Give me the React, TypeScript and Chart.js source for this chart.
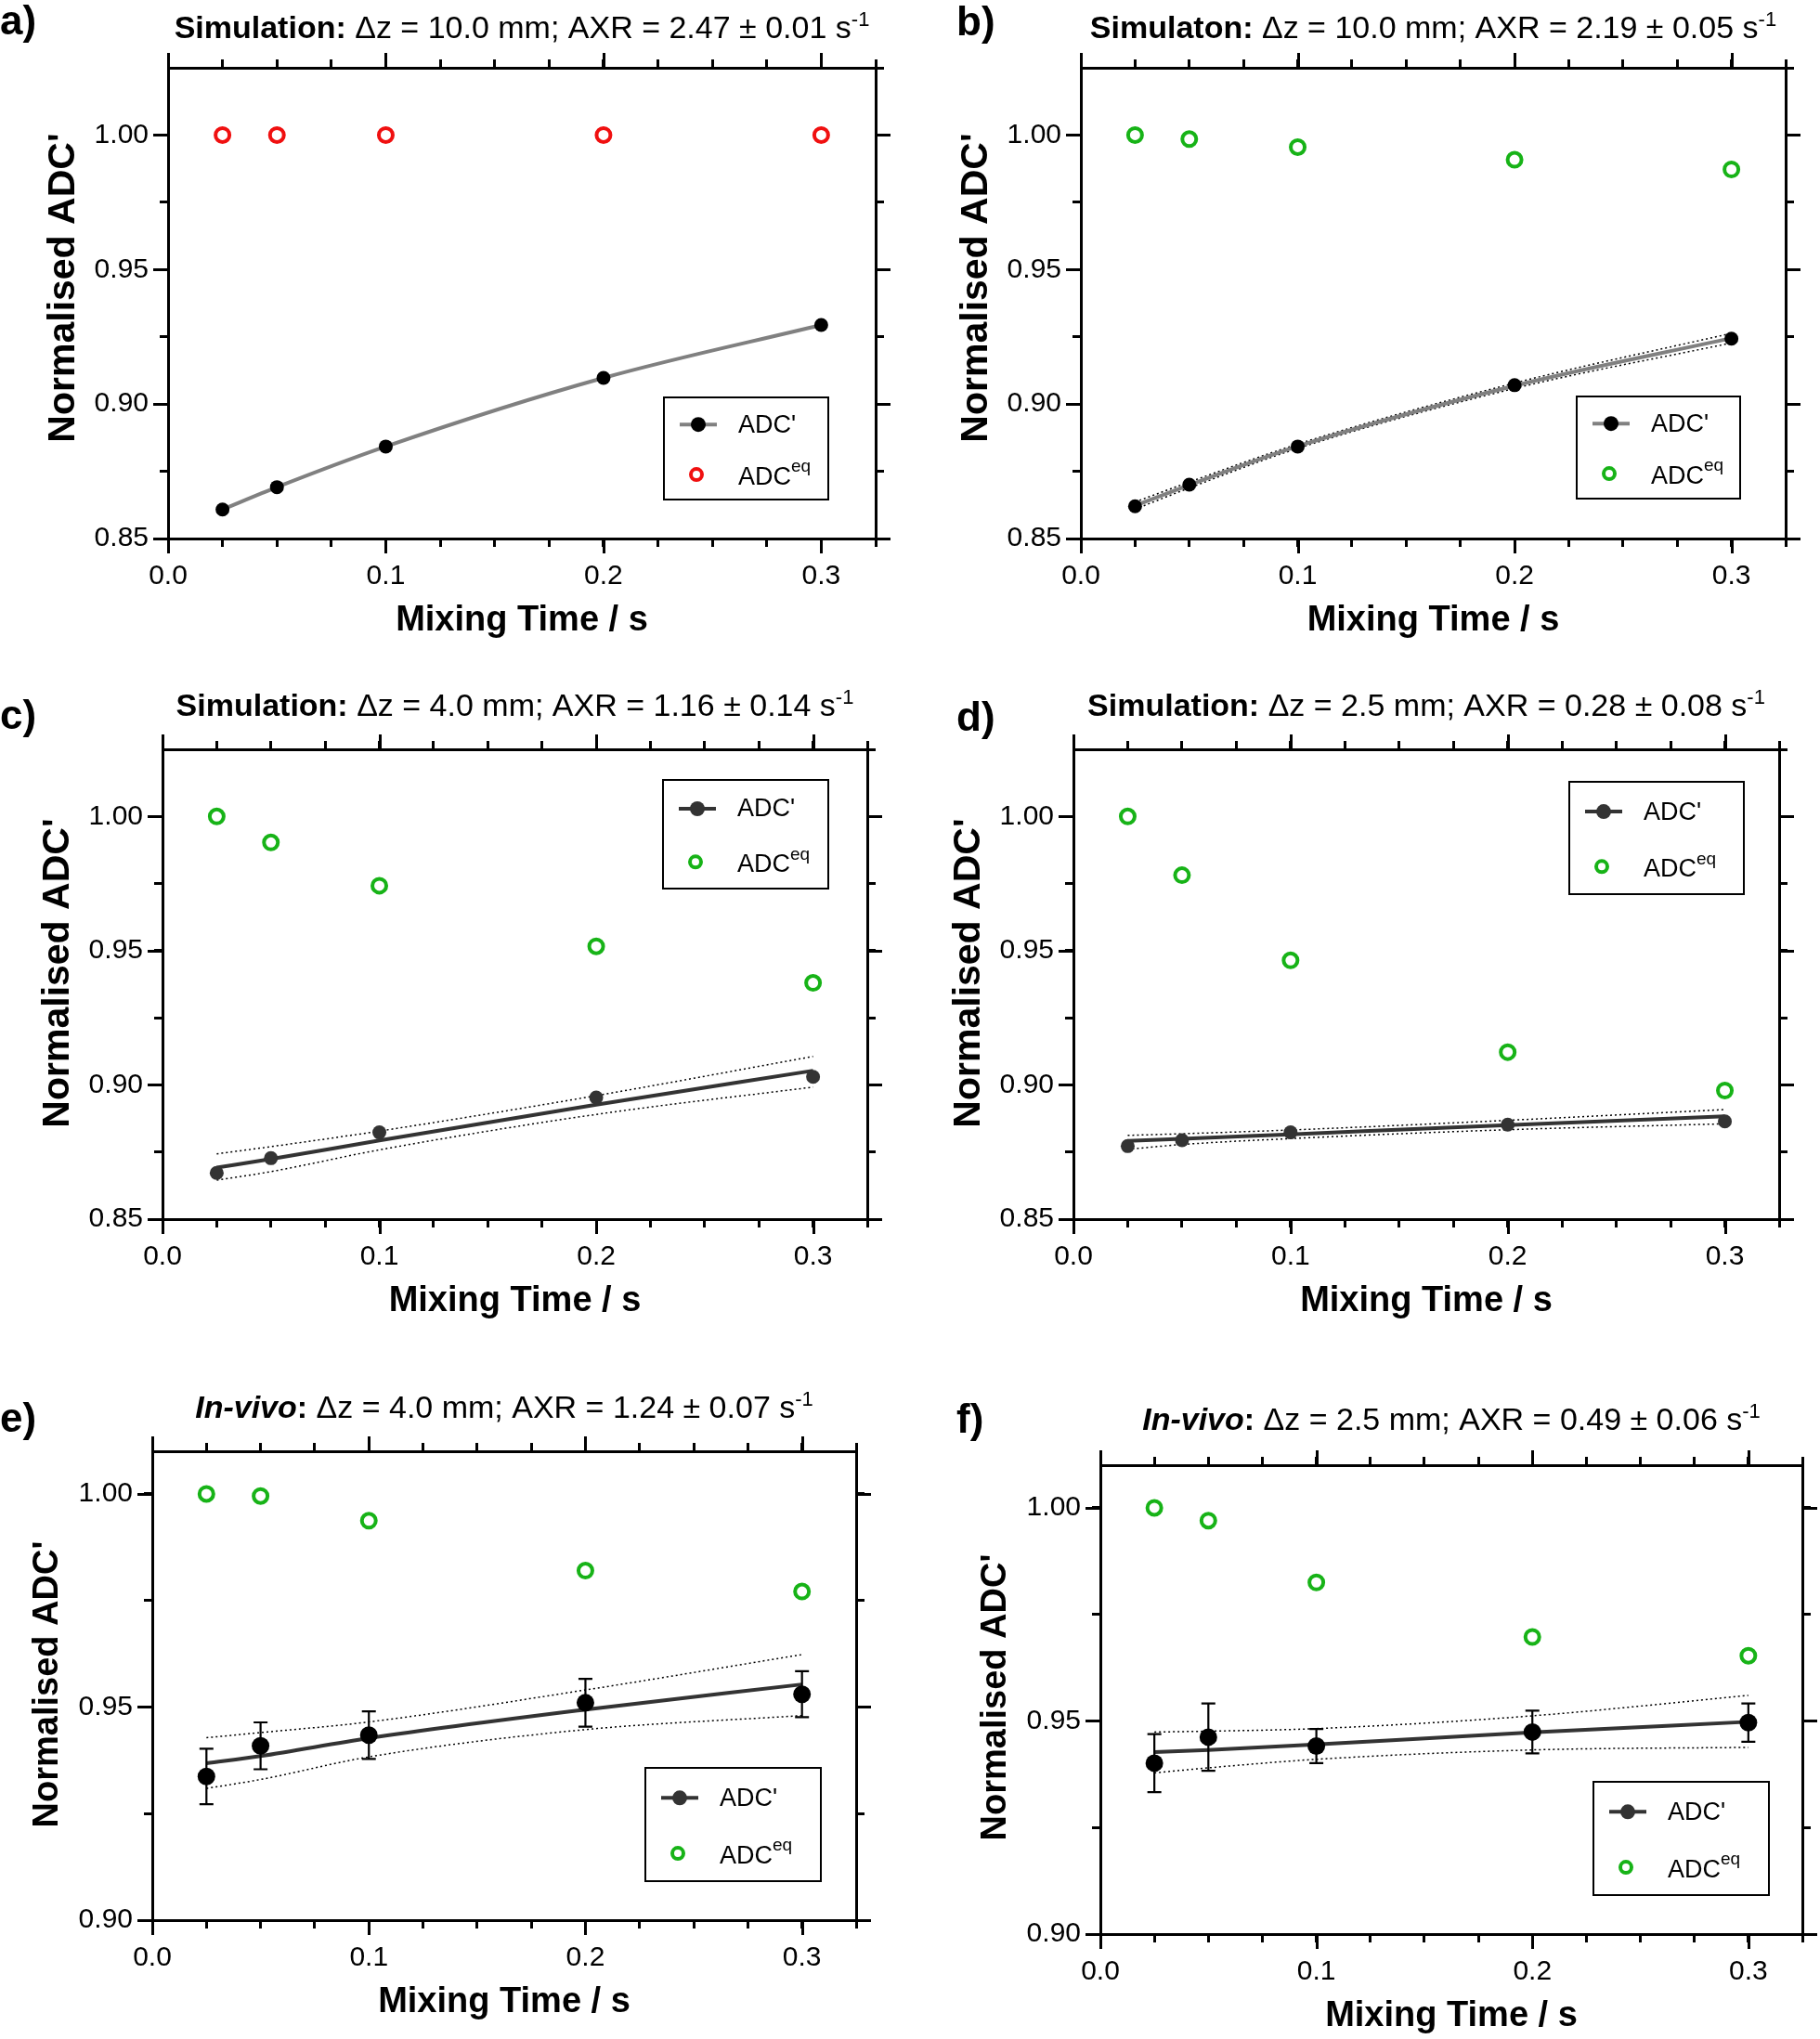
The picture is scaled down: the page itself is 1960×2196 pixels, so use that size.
import React, { useEffect, useRef } from 'react';
import { Chart, registerables } from 'chart.js';

Chart.register(...registerables);

const FONT = '"Liberation Sans", Arial, Helvetica, sans-serif';
Chart.defaults.font.family = FONT;

// ---------------- data ----------------
const mixingTime = [0.025, 0.05, 0.1, 0.2, 0.3];

const xMinorTicks = [0, 0.025, 0.05, 0.075, 0.1, 0.125, 0.15, 0.175, 0.2, 0.225, 0.25, 0.275, 0.3, 0.325];
const xMajorTicks = [0, 0.1, 0.2, 0.3];
const xTickLabels = ['0.0', '0.1', '0.2', '0.3'];

const yMajorSim = [0.85, 0.9, 0.95, 1.0];
const yLabelsSim = ['0.85', '0.90', '0.95', '1.00'];
const yMinorSim = [0.85, 0.875, 0.9, 0.925, 0.95, 0.975, 1.0, 1.025];
const yMajorVivo = [0.9, 0.95, 1.0];
const yLabelsVivo = ['0.90', '0.95', '1.00'];
const yMinorVivo = [0.9, 0.925, 0.95, 0.975, 1.0];

const adcA = [0.8608, 0.8691, 0.8842, 0.9097, 0.9294];
const adcEqA = [1.0, 1.0, 1.0, 1.0, 1.0];

const adcB = [0.862, 0.87, 0.8842, 0.907, 0.9243];
const adcEqB = [1.0, 0.9985, 0.9955, 0.9908, 0.9872];
const fitB = [0.8622, 0.8699, 0.8843, 0.9068, 0.9245];
const upperB = [0.8636, 0.871, 0.8851, 0.9078, 0.9263];
const lowerB = [0.8609, 0.8688, 0.8835, 0.9058, 0.9227];

const adcC = [0.8672, 0.8727, 0.8823, 0.8953, 0.903];
const adcEqC = [1.0, 0.9903, 0.9742, 0.9516, 0.938];
const fitC = [0.8692, 0.8724, 0.8793, 0.8926, 0.9053];
const upperC = [0.8743, 0.877, 0.8828, 0.896, 0.9106];
const lowerC = [0.8645, 0.8677, 0.8758, 0.889, 0.8992];

const adcD = [0.8772, 0.8794, 0.8823, 0.8852, 0.8864];
const adcEqD = [1.0, 0.9781, 0.9464, 0.9122, 0.8979];
const fitD = [0.8791, 0.8799, 0.8816, 0.885, 0.8883];
const upperD = [0.8812, 0.8818, 0.8832, 0.8868, 0.8908];
const lowerD = [0.876, 0.8778, 0.88, 0.8833, 0.8855];

const adcE = [0.9337, 0.9409, 0.9434, 0.951, 0.953];
const errE = [0.0065, 0.0055, 0.0056, 0.0056, 0.0054];
const adcEqE = [1.0, 0.9995, 0.9937, 0.982, 0.9771];
const fitE = [0.9368, 0.9385, 0.9427, 0.9494, 0.9553];
const upperE = [0.9428, 0.944, 0.9465, 0.954, 0.9623];
const lowerE = [0.9309, 0.933, 0.9383, 0.9447, 0.948];

const adcF = [0.9401, 0.9462, 0.9441, 0.9474, 0.9496];
const errF = [0.0068, 0.0079, 0.004, 0.005, 0.0045];
const adcEqF = [1.0, 0.997, 0.9825, 0.9697, 0.9653];
const fitF = [0.9427, 0.9432, 0.9445, 0.9473, 0.9498];
const upperF = [0.9474, 0.9476, 0.9482, 0.9512, 0.956];
const lowerF = [0.9378, 0.939, 0.941, 0.9432, 0.9438];

// ---------------- panel specs (layout / style) ----------------
type Seg = { t: string; style: 'b' | 'r' | 'bi' | 'sup' };
type Box = { l: number; t: number; r: number; b: number };
type Panel = {
  key: string;
  letter: string;
  letterPos: { x: number; y: number };
  title: Seg[];
  titleY: number;
  yTitleY: number;
  yTitleSize: number;
  canvas: { x: number; y: number; w: number; h: number };
  plot: Box;
  yMin: number;
  yMax: number;
  vivo: boolean;
  adc: number[];
  adcEq: number[];
  fit: number[];
  upper?: number[];
  lower?: number[];
  err?: number[];
  eqColor: string;
  fitColor: string;
  dotColor: string;
  legendDot: string;
  dotR: number;
  legend: Box;
};

const RED = '#f01010';
const GREEN = '#17b317';

const panels: Panel[] = [
  {
    key: 'a', letter: 'a)', letterPos: { x: 0, y: 37 },
    title: [{ t: 'Simulation:', style: 'b' }, { t: ' \u0394z = 10.0 mm; AXR = 2.47 \u00b1 0.01 s', style: 'r' }, { t: '-1', style: 'sup' }],
    titleY: 29, yTitleY: 310, yTitleSize: 41,
    canvas: { x: 0, y: 0, w: 980, h: 720 }, plot: { l: 181, t: 73, r: 943, b: 580 },
    yMin: 0.85, yMax: 1.025, vivo: false,
    adc: adcA, adcEq: adcEqA, fit: adcA,
    eqColor: RED, fitColor: '#808080', dotColor: '#000', legendDot: '#000', dotR: 7.5,
    legend: { l: 715, t: 428, r: 892, b: 538 },
  },
  {
    key: 'b', letter: 'b)', letterPos: { x: 1030, y: 38 },
    title: [{ t: 'Simulaton:', style: 'b' }, { t: ' \u0394z = 10.0 mm; AXR = 2.19 \u00b1 0.05 s', style: 'r' }, { t: '-1', style: 'sup' }],
    titleY: 29, yTitleY: 310, yTitleSize: 41,
    canvas: { x: 980, y: 0, w: 980, h: 720 }, plot: { l: 1164, t: 73, r: 1923, b: 580 },
    yMin: 0.85, yMax: 1.025, vivo: false,
    adc: adcB, adcEq: adcEqB, fit: fitB, upper: upperB, lower: lowerB,
    eqColor: GREEN, fitColor: '#808080', dotColor: '#000', legendDot: '#000', dotR: 7.5,
    legend: { l: 1698, t: 427, r: 1874, b: 537 },
  },
  {
    key: 'c', letter: 'c)', letterPos: { x: 0, y: 785 },
    title: [{ t: 'Simulation:', style: 'b' }, { t: ' \u0394z = 4.0 mm; AXR = 1.16 \u00b1 0.14 s', style: 'r' }, { t: '-1', style: 'sup' }],
    titleY: 759, yTitleY: 1048, yTitleSize: 41,
    canvas: { x: 0, y: 720, w: 980, h: 740 }, plot: { l: 175, t: 807, r: 934, b: 1313 },
    yMin: 0.85, yMax: 1.025, vivo: false,
    adc: adcC, adcEq: adcEqC, fit: fitC, upper: upperC, lower: lowerC,
    eqColor: GREEN, fitColor: '#333333', dotColor: '#333333', legendDot: '#333333', dotR: 7.5,
    legend: { l: 714, t: 840, r: 892, b: 957 },
  },
  {
    key: 'd', letter: 'd)', letterPos: { x: 1030, y: 787 },
    title: [{ t: 'Simulation:', style: 'b' }, { t: ' \u0394z = 2.5 mm; AXR = 0.28 \u00b1 0.08 s', style: 'r' }, { t: '-1', style: 'sup' }],
    titleY: 759, yTitleY: 1048, yTitleSize: 41,
    canvas: { x: 980, y: 720, w: 980, h: 740 }, plot: { l: 1156, t: 807, r: 1916, b: 1313 },
    yMin: 0.85, yMax: 1.025, vivo: false,
    adc: adcD, adcEq: adcEqD, fit: fitD, upper: upperD, lower: lowerD,
    eqColor: GREEN, fitColor: '#333333', dotColor: '#333333', legendDot: '#333333', dotR: 7.5,
    legend: { l: 1690, t: 842, r: 1878, b: 963 },
  },
  {
    key: 'e', letter: 'e)', letterPos: { x: 0, y: 1542 },
    title: [{ t: 'In-vivo', style: 'bi' }, { t: ':', style: 'b' }, { t: ' \u0394z = 4.0 mm; AXR = 1.24 \u00b1 0.07 s', style: 'r' }, { t: '-1', style: 'sup' }],
    titleY: 1515, yTitleY: 1814, yTitleSize: 38,
    canvas: { x: 0, y: 1460, w: 980, h: 736 }, plot: { l: 164, t: 1563, r: 922, b: 2068 },
    yMin: 0.9, yMax: 1.01, vivo: true,
    adc: adcE, adcEq: adcEqE, fit: fitE, upper: upperE, lower: lowerE, err: errE,
    eqColor: GREEN, fitColor: '#333333', dotColor: '#000', legendDot: '#333333', dotR: 9.5,
    legend: { l: 695, t: 1904, r: 884, b: 2026 },
  },
  {
    key: 'f', letter: 'f)', letterPos: { x: 1030, y: 1543 },
    title: [{ t: 'In-vivo', style: 'bi' }, { t: ':', style: 'b' }, { t: ' \u0394z = 2.5 mm; AXR = 0.49 \u00b1 0.06 s', style: 'r' }, { t: '-1', style: 'sup' }],
    titleY: 1528, yTitleY: 1828, yTitleSize: 38,
    canvas: { x: 980, y: 1460, w: 980, h: 736 }, plot: { l: 1185, t: 1578, r: 1941, b: 2083 },
    yMin: 0.9, yMax: 1.01, vivo: true,
    adc: adcF, adcEq: adcEqF, fit: fitF, upper: upperF, lower: lowerF, err: errF,
    eqColor: GREEN, fitColor: '#333333', dotColor: '#000', legendDot: '#333333', dotR: 9.5,
    legend: { l: 1716, t: 1919, r: 1905, b: 2041 },
  },
];

const TITLE_SIZE = 34;
const SUP_SIZE = 22;
const TICK_SIZE = 30;
const AXIS_TITLE_SIZE = 38;
const LEGEND_SIZE = 27;
const MINOR_LEN = 9;
const MAJOR_LEN = 16;
const X2H = 18;
const Y2W = 18;

const pts = (ys: number[]) => mixingTime.map((x, i) => ({ x, y: ys[i] }));
const near = (arr: number[], v: number) => arr.findIndex((m) => Math.abs(m - v) < 1e-9);

function segFont(style: Seg['style']) {
  if (style === 'b') return `bold ${TITLE_SIZE}px ${FONT}`;
  if (style === 'bi') return `italic bold ${TITLE_SIZE}px ${FONT}`;
  if (style === 'sup') return `${SUP_SIZE}px ${FONT}`;
  return `${TITLE_SIZE}px ${FONT}`;
}

function makeExtras(p: Panel) {
  const ox = p.canvas.x;
  const oy = p.canvas.y;
  const yMajor = p.vivo ? yMajorVivo : yMajorSim;
  return {
    id: 'extras',
    afterDatasetsDraw(chart: any) {
      if (!p.err) return;
      const ctx = chart.ctx;
      const xs = chart.scales.x;
      const ys = chart.scales.y;
      ctx.save();
      ctx.strokeStyle = '#000';
      ctx.lineWidth = 2.2;
      p.err.forEach((e, i) => {
        const px = xs.getPixelForValue(mixingTime[i]);
        const top = ys.getPixelForValue(p.adc[i] + e);
        const bot = ys.getPixelForValue(p.adc[i] - e);
        ctx.beginPath();
        ctx.moveTo(px, top);
        ctx.lineTo(px, bot);
        ctx.moveTo(px - 7.5, top);
        ctx.lineTo(px + 7.5, top);
        ctx.moveTo(px - 7.5, bot);
        ctx.lineTo(px + 7.5, bot);
        ctx.stroke();
      });
      ctx.restore();
    },
    afterDraw(chart: any) {
      const ctx = chart.ctx;
      const ca = chart.chartArea;
      const xs = chart.scales.x;
      const ys = chart.scales.y;
      ctx.save();
      // longer major tick marks on all four sides
      ctx.strokeStyle = '#000';
      ctx.lineWidth = 3;
      ctx.lineCap = 'butt';
      ctx.beginPath();
      xMajorTicks.forEach((v) => {
        const px = Math.round(xs.getPixelForValue(v)) + 0.5;
        ctx.moveTo(px, ca.bottom);
        ctx.lineTo(px, ca.bottom + MAJOR_LEN);
        ctx.moveTo(px, ca.top);
        ctx.lineTo(px, ca.top - MAJOR_LEN);
      });
      yMajor.forEach((v) => {
        const py = Math.round(ys.getPixelForValue(v)) + 0.5;
        ctx.moveTo(ca.left, py);
        ctx.lineTo(ca.left - MAJOR_LEN, py);
        ctx.moveTo(ca.right, py);
        ctx.lineTo(ca.right + MAJOR_LEN, py);
      });
      ctx.stroke();

      ctx.fillStyle = '#000';
      ctx.textBaseline = 'alphabetic';
      ctx.textAlign = 'left';
      // panel letter
      ctx.font = `bold 44px ${FONT}`;
      ctx.fillText(p.letter, p.letterPos.x - ox, p.letterPos.y - oy);
      // y axis title
      ctx.save();
      ctx.font = `bold ${p.yTitleSize}px ${FONT}`;
      ctx.textAlign = 'center';
      ctx.textBaseline = 'middle';
      ctx.translate(p.plot.l - 112 - ox, p.yTitleY - oy);
      ctx.rotate(-Math.PI / 2);
      ctx.fillText("Normalised ADC'", 0, 0);
      ctx.restore();
      // title
      let total = 0;
      const widths = p.title.map((s) => {
        ctx.font = segFont(s.style);
        const w = ctx.measureText(s.t).width;
        total += w;
        return w;
      });
      const cx = (p.plot.l + p.plot.r) / 2 - ox;
      let x = cx - total / 2;
      const base = p.titleY - oy + TITLE_SIZE * 0.36;
      p.title.forEach((s, i) => {
        ctx.font = segFont(s.style);
        ctx.fillText(s.t, x, s.style === 'sup' ? base - TITLE_SIZE * 0.4 : base);
        x += widths[i];
      });
      // legend
      const L = p.legend;
      const l = L.l - ox, t = L.t - oy, r = L.r - ox, b = L.b - oy;
      ctx.fillStyle = '#fff';
      ctx.fillRect(l, t, r - l, b - t);
      ctx.strokeStyle = '#000';
      ctx.lineWidth = 2;
      ctx.strokeRect(l, t, r - l, b - t);
      const h = b - t;
      const r1 = t + h * 0.265;
      const r2 = t + h * 0.755;
      ctx.strokeStyle = p.fitColor;
      ctx.lineWidth = 4;
      ctx.beginPath();
      ctx.moveTo(l + 17, r1);
      ctx.lineTo(l + 57, r1);
      ctx.stroke();
      ctx.fillStyle = p.legendDot;
      ctx.beginPath();
      ctx.arc(l + 37, r1, 8, 0, Math.PI * 2);
      ctx.fill();
      ctx.strokeStyle = p.eqColor;
      ctx.lineWidth = 4;
      ctx.beginPath();
      ctx.arc(l + 35, r2, 6, 0, Math.PI * 2);
      ctx.stroke();
      ctx.fillStyle = '#000';
      ctx.font = `${LEGEND_SIZE}px ${FONT}`;
      ctx.textBaseline = 'middle';
      ctx.fillText("ADC'", l + 80, r1 + 1);
      ctx.fillText('ADC', l + 80, r2 + 3);
      const w = ctx.measureText('ADC').width;
      ctx.font = `${Math.round(LEGEND_SIZE * 0.7)}px ${FONT}`;
      ctx.fillText('eq', l + 80 + w, r2 - 8);
      ctx.restore();
    },
  };
}

function buildConfig(p: Panel): any {
  const { canvas, plot } = p;
  const yW = plot.l - canvas.x;
  const xH = canvas.y + canvas.h - plot.b;
  const padTop = plot.t - canvas.y - X2H;
  const padRight = canvas.x + canvas.w - plot.r - Y2W;
  const lh = AXIS_TITLE_SIZE * 1.2;
  const xTitlePad = canvas.h - (plot.b + 89 - canvas.y) - lh / 2;
  const yMajor = p.vivo ? yMajorVivo : yMajorSim;
  const yLabels = p.vivo ? yLabelsVivo : yLabelsSim;
  const yMinor = p.vivo ? yMinorVivo : yMinorSim;
  const yMinorLeft = yMinor.filter((v) => v <= 1.0 + 1e-9);

  const grid = { drawOnChartArea: false, drawTicks: true, tickLength: MINOR_LEN, tickWidth: 3, tickColor: '#000', color: '#000', lineWidth: 3 };
  const border = { display: true, color: '#000', width: 3 };
  const tickFont = { family: FONT, size: TICK_SIZE };
  const axisTitleFont = { family: FONT, size: AXIS_TITLE_SIZE, weight: 'bold' as const };

  const datasets: any[] = [
    {
      label: "ADC'", data: pts(p.adc), xAxisID: 'x', yAxisID: 'y',
      showLine: false, pointRadius: p.dotR, pointBackgroundColor: p.dotColor, pointBorderColor: p.dotColor, pointBorderWidth: 0,
    },
    {
      label: 'ADCeq', data: pts(p.adcEq), xAxisID: 'x', yAxisID: 'y',
      showLine: false, pointRadius: 7.5, pointBackgroundColor: 'rgba(0,0,0,0)', pointBorderColor: p.eqColor, pointBorderWidth: 4,
    },
    {
      label: 'fit', data: pts(p.fit), xAxisID: 'x', yAxisID: 'y',
      showLine: true, pointRadius: 0, borderColor: p.fitColor, borderWidth: 4, cubicInterpolationMode: 'monotone',
    },
  ];
  if (p.upper && p.lower) {
    [p.upper, p.lower].forEach((band, k) => {
      datasets.push({
        label: k === 0 ? 'upper' : 'lower', data: pts(band), xAxisID: 'x', yAxisID: 'y',
        showLine: true, pointRadius: 0, borderColor: '#000', borderWidth: 1.5, borderDash: [2, 3], cubicInterpolationMode: 'monotone',
      });
    });
  }

  return {
    type: 'scatter',
    data: { datasets },
    options: {
      animation: false,
      responsive: false,
      maintainAspectRatio: false,
      layout: { padding: { left: 0, right: padRight, top: padTop, bottom: 0 } },
      plugins: { legend: { display: false }, tooltip: { enabled: false }, title: { display: false } },
      scales: {
        x: {
          type: 'linear', position: 'bottom', min: 0, max: 0.325,
          afterBuildTicks: (s: any) => { s.ticks = xMinorTicks.map((v) => ({ value: v })); },
          ticks: {
            autoSkip: false, maxRotation: 0, minRotation: 0, font: tickFont, color: '#000', padding: 14,
            callback: (v: number) => { const i = near(xMajorTicks, v); return i >= 0 ? xTickLabels[i] : ''; },
          },
          grid, border,
          title: { display: true, text: 'Mixing Time / s', font: axisTitleFont, color: '#000', padding: { top: 0, bottom: xTitlePad } },
          afterFit: (s: any) => { s.height = xH; },
        },
        x2: {
          type: 'linear', position: 'top', min: 0, max: 0.325,
          afterBuildTicks: (s: any) => { s.ticks = xMinorTicks.map((v) => ({ value: v })); },
          ticks: { autoSkip: false, maxRotation: 0, padding: 0, callback: () => '' },
          grid, border,
          afterFit: (s: any) => { s.height = X2H; },
        },
        y: {
          type: 'linear', position: 'left', min: p.yMin, max: p.yMax,
          afterBuildTicks: (s: any) => { s.ticks = yMinorLeft.map((v) => ({ value: v })); },
          ticks: {
            autoSkip: false, font: tickFont, color: '#000', padding: 12,
            callback: (v: number) => { const i = near(yMajor, v); return i >= 0 ? yLabels[i] : ''; },
          },
          grid, border,
          title: { display: false },
          afterFit: (s: any) => { s.width = yW; },
        },
        y2: {
          type: 'linear', position: 'right', min: p.yMin, max: p.yMax,
          afterBuildTicks: (s: any) => { s.ticks = yMinor.map((v) => ({ value: v })); },
          ticks: { autoSkip: false, padding: 0, callback: () => '' },
          grid, border,
          afterFit: (s: any) => { s.width = Y2W; },
        },
      },
    },
    plugins: [makeExtras(p)],
  };
}

function PanelChart({ p }: { p: Panel }) {
  const ref = useRef<HTMLCanvasElement | null>(null);
  useEffect(() => {
    if (!ref.current) return;
    const chart = new Chart(ref.current, buildConfig(p));
    return () => chart.destroy();
  }, [p]);
  return (
    <canvas
      ref={ref}
      width={p.canvas.w}
      height={p.canvas.h}
      style={{ position: 'absolute', left: p.canvas.x, top: p.canvas.y, width: p.canvas.w, height: p.canvas.h }}
    />
  );
}

export default function App() {
  return (
    <div style={{ position: 'absolute', left: 0, top: 0, width: 1960, height: 2196, background: '#fff', overflow: 'hidden' }}>
      {panels.map((p) => (
        <PanelChart key={p.key} p={p} />
      ))}
    </div>
  );
}
